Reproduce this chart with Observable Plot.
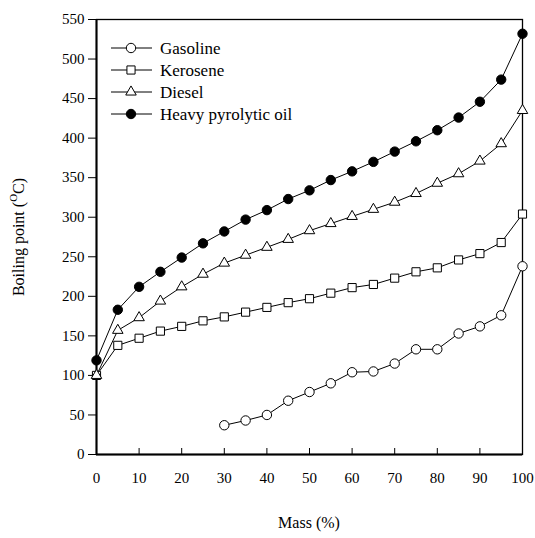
<!DOCTYPE html>
<html><head><meta charset="utf-8">
<script src="https://cdn.jsdelivr.net/npm/d3@7"></script>
<script src="https://cdn.jsdelivr.net/npm/@observablehq/plot@0.6"></script>
<style>body{margin:0;background:#fff} svg, svg text, svg tspan{font-family:"Liberation Serif","DejaVu Serif",serif !important}</style>
</head><body><div id="chart"></div>
<script>
const mass = [0,5,10,15,20,25,30,35,40,45,50,55,60,65,70,75,80,85,90,95,100];
const gasolineMass = [30,35,40,45,50,55,60,65,70,75,80,85,90,95,100];
const gasoline = [37,43,50,68,79,90,104,105,115,133,133,153,162,176,238];
const kerosene = [100,138,147,156,162,169,174,180,186,192,197,204,211,215,223,231,236,246,254,268,304];
const diesel = [100,157,173,194,212,228,242,252,262,272,283,292,301,310,319,330,343,355,371,393,435];
const heavy = [119,183,212,231,249,267,282,297,309,323,334,347,358,370,383,396,410,426,446,474,532];
const seriesNames = ["Gasoline","Kerosene","Diesel","Heavy pyrolytic oil"];
const symbols = ["circle","square","triangle","circle"];
const fills = ["white","white","white","black"];
const xTicks = [0,10,20,30,40,50,60,70,80,90,100];
const yTicks = [0,50,100,150,200,250,300,350,400,450,500,550];
const xTitle = "Mass (%)";

const seriesX = [gasolineMass, mass, mass, mass];
const seriesY = [gasoline, kerosene, diesel, heavy];
const series = seriesNames.map((name, i) => ({
  name, symbol: symbols[i], fill: fills[i],
  rows: seriesX[i].map((x, j) => ({x, y: seriesY[i][j]}))
}));
const symR = {circle: 4.7, square: 4.6, triangle: 3.9};
const FONT = "'Liberation Serif', 'DejaVu Serif', serif";

const marks = [
  Plot.frame({stroke: "black", strokeWidth: 1.3}),
  Plot.axisY({ticks: yTicks, tickSize: 8, tickPadding: 4, label: null, tickFormat: d => String(d), fontFamily: FONT}),
  Plot.axisX({ticks: xTicks, tickSize: -6, tickPadding: 24, label: null, tickFormat: d => String(d), fontFamily: FONT}),
  Plot.ruleX([0], {stroke: "black", strokeWidth: 2}),
  Plot.ruleY([0], {stroke: "black", strokeWidth: 2})
];
for (const s of series) {
  marks.push(Plot.line(s.rows, {x: "x", y: "y", stroke: "black", strokeWidth: 1}));
}
for (const s of series) {
  marks.push(Plot.dot(s.rows, {x: "x", y: "y", symbol: s.symbol, fill: s.fill, stroke: "black", strokeWidth: 1, r: symR[s.symbol]}));
}

const plot = Plot.plot({
  width: 535, height: 538,
  marginLeft: 96, marginRight: 13, marginTop: 19, marginBottom: 84,
  style: {fontFamily: FONT, fontSize: "15px", color: "black", background: "white"},
  x: {domain: [0, 100]},
  y: {domain: [0, 550]},
  marks
});
document.getElementById("chart").appendChild(plot);

const svg = d3.select(plot);
svg.attr("font-family", FONT);
// axis titles
svg.append("text").attr("x", 309).attr("y", 528).attr("text-anchor", "middle").attr("font-family", FONT)
  .attr("font-size", 16).attr("fill", "black").text(xTitle);
const yl = svg.append("text").attr("transform", "translate(24,237) rotate(-90)").attr("text-anchor", "middle")
  .attr("font-family", FONT).attr("font-size", 16).attr("fill", "black");
yl.append("tspan").text("Boiling point (");
yl.append("tspan").attr("font-size", 11).attr("dy", -7).text("O");
yl.append("tspan").attr("dy", 7).text("C)");

// legend
const lg = svg.append("g");
series.forEach((s, i) => {
  const y = 48 + i * 22;
  lg.append("line").attr("x1", 111).attr("x2", 152).attr("y1", y).attr("y2", y).attr("stroke", "black");
  const sym = s.symbol === "circle" ? d3.symbolCircle : s.symbol === "square" ? d3.symbolSquare : d3.symbolTriangle;
  const r = symR[s.symbol];
  lg.append("path").attr("transform", `translate(131,${y})`)
    .attr("d", d3.symbol(sym, Math.PI * r * r)())
    .attr("fill", s.fill).attr("stroke", "black");
  lg.append("text").attr("x", 160).attr("y", y).attr("dy", "0.35em").attr("text-anchor", "start")
    .attr("font-family", FONT).attr("font-size", 17).attr("fill", "black").text(s.name);
});
</script></body></html>
